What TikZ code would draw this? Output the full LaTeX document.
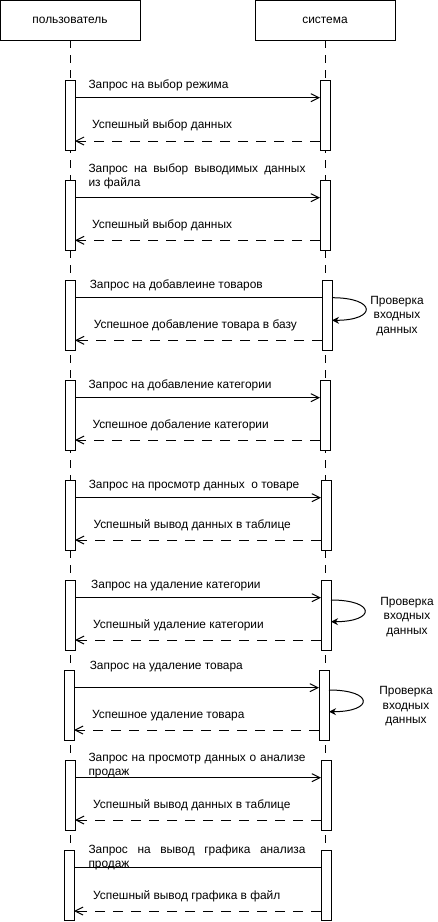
\documentclass[tikz,border=0pt]{standalone}
\usepackage{fontspec}
\setmainfont{Liberation Sans}
\usetikzlibrary{arrows.meta}

\begin{document}
\begin{tikzpicture}[x=1pt,y=-1pt,line width=1pt,
  font=\fontsize{11.9}{14.5}\selectfont,
  actor/.style={draw,minimum width=140pt,minimum height=40pt,inner sep=0pt,outer sep=0pt},
  act/.style={draw,fill=white,minimum width=10pt,minimum height=70pt,inner sep=0pt,outer sep=0pt},
  life/.style={dash pattern=on 8pt off 7pt},
  req/.style={-{Straight Barb[length=8pt,width=8pt]}},
  ret/.style={dash pattern=on 10pt off 8pt,-{Straight Barb[length=8pt,width=8pt]}},
  self/.style={-{Stealth[length=7pt,width=7pt]}},
  lbl/.style={anchor=base west,inner sep=0pt},
  wide/.style={lbl,text width=217pt,align=justify},
  chk/.style={anchor=base,inner sep=0pt,align=center}]

\useasboundingbox (0,0) rectangle (438,922);

\node[actor] (user) at (70,20) {пользователь};
\node[actor] (sys) at (325,20) {система};
\coordinate (userend) at (70,922);
\coordinate (sysend) at (325,922);
\draw[life] (user) -- (userend);
\draw[life] (sys) -- (sysend);

\node[act] (ua1) at (70,115) {};
\node[act] (sa1) at (325,115) {};
\draw[req] (ua1.east |- 0,97.7) -- (sa1.west |- 0,97.7);
\draw[ret] (sa1.west |- 0,141) -- (ua1.east |- 0,141);
\node[lbl] (q1) at (88,88) {Запрос на выбор режима};
\node[lbl] (r1) at (91.7,128.7) {Успешный выбор данных};

\node[act] (ua2) at (70,215) {};
\node[act] (sa2) at (325,215) {};
\draw[req] (ua2.east |- 0,197.7) -- (sa2.west |- 0,197.7);
\draw[ret] (sa2.west |- 0,240.3) -- (ua2.east |- 0,240.3);
\node[wide] (q2) at (88,172) {Запрос на выбор выводимых данных\linebreak из файла};
\node[lbl] (r2) at (91.7,228.7) {Успешный выбор данных};

\node[act] (ua3) at (70,315) {};
\node[act] (sa3) at (327,315) {};
\draw (ua3.east |- 0,297.7) -- (sa3.west |- 0,297.7);
\draw[self] (sa3.east |- 0,297.7) .. controls +(45,0) and +(45,0) .. (sa3.east |- 0,320.3);
\draw[ret] (sa3.west |- 0,340.3) -- (ua3.east |- 0,340.3);
\node[lbl] (q3) at (89.3,288) {Запрос на добавлеине товаров};
\node[lbl] (r3) at (93.3,328.7) {Успешное добавление товара в базу};
\node[chk] (c3) at (397,333.3) {Проверка\\входных\\данных};

\node[act] (ua4) at (70,415) {};
\node[act] (sa4) at (325,415) {};
\draw[req] (ua4.east |- 0,397.7) -- (sa4.west |- 0,397.7);
\draw[ret] (sa4.west |- 0,440) -- (ua4.east |- 0,440);
\node[lbl] (q4) at (88,388) {Запрос на добавление категории};
\node[lbl] (r4) at (92,428) {Успешное добаление категории};

\node[act] (ua5) at (70,515) {};
\node[act] (sa5) at (326,515) {};
\draw[req] (ua5.east |- 0,497.7) -- (sa5.west |- 0,497.7);
\draw[ret] (sa5.west |- 0,540) -- (ua5.east |- 0,540);
\node[lbl] (q5) at (88.3,488) {Запрос на просмотр данных\ \ о товаре};
\node[lbl] (r5) at (93,528) {Успешный вывод данных в таблице};

\node[act] (ua6) at (70,615) {};
\node[act] (sa6) at (326,615) {};
\draw[req] (ua6.east |- 0,597.7) -- (sa6.west |- 0,597.7);
\draw[self] (sa6.east |- 0,600) .. controls +(45,0) and +(45,0) .. (sa6.east |- 0,621.7);
\draw[ret] (sa6.west |- 0,640) -- (ua6.east |- 0,640);
\node[lbl] (q6) at (90.7,588) {Запрос на удаление категории};
\node[lbl] (r6) at (92.7,628) {Успешный удаление категории};
\node[chk] (c6) at (407,634) {Проверка\\входных\\данных};

\node[act] (ua7) at (69,705) {};
\node[act] (sa7) at (324,705) {};
\draw[req] (ua7.east |- 0,687.7) -- (sa7.west |- 0,687.7);
\draw[self] (sa7.east |- 0,690) .. controls +(45,0) and +(45,0) .. (sa7.east |- 0,711.7);
\draw[ret] (sa7.west |- 0,730) -- (ua7.east |- 0,730);
\node[lbl] (q7) at (89.3,669.7) {Запрос на удаление товара};
\node[lbl] (r7) at (91.7,718) {Успешное удаление товара};
\node[chk] (c7) at (406,723.7) {Проверка\\входных\\данных};

\node[act] (ua8) at (70,795) {};
\node[act] (sa8) at (326,795) {};
\draw[req] (ua8.east |- 0,777.7) -- (sa8.west |- 0,777.7);
\draw[ret] (sa8.west |- 0,820) -- (ua8.east |- 0,820);
\node[wide] (q8) at (88,761.3) {Запрос на просмотр данных о анализе\linebreak продаж};
\node[lbl] (r8) at (92.7,808) {Успешный вывод данных в таблице};

\node[act] (ua9) at (69,885) {};
\node[act] (sa9) at (326,885) {};
\draw (ua9.east |- 0,867.7) -- (sa9.west |- 0,867.7);
\draw[ret] (sa9.west |- 0,911) -- (ua9.east |- 0,911);
\node[wide] (q9) at (88,853) {Запрос на вывод графика анализа\linebreak продаж};
\node[lbl] (r9) at (92.7,899) {Успешный вывод графика в файл};

\end{tikzpicture}
\end{document}
